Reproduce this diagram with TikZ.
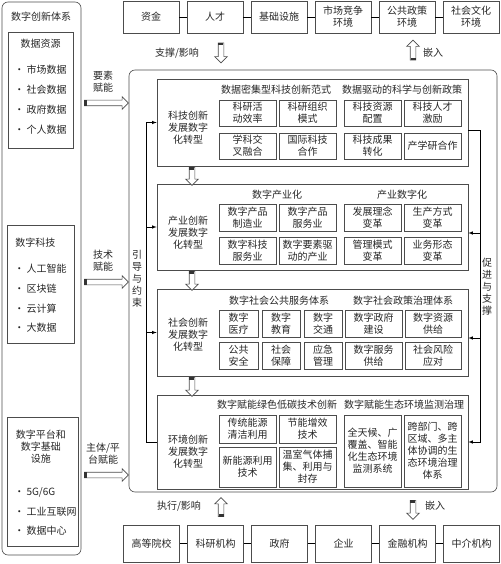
\documentclass[tikz,border=0pt]{standalone}
\usepackage{fontspec}
\setmainfont{Noto Sans CJK SC}
\usetikzlibrary{positioning,shapes.arrows,calc}
\tikzstyle{every picture}+=[>=latex]
\tikzstyle{every picture}+=[line width=0.6pt]
\tikzstyle{every picture}+=[x=1pt,y=-1pt]
\tikzstyle{every picture}+=[node distance=64pt]
\tikzstyle{every node}+=[font=\fontsize{10}{12}\selectfont, text=black!85, align=center]
\tikzstyle{frame}=[draw=black!70, rounded corners=6pt]
\tikzstyle{box}=[draw=black!70, inner sep=1pt]
\tikzstyle{actor}=[box, minimum width=56pt, minimum height=32pt]
\tikzstyle{cell}=[box, minimum width=57pt, minimum height=27pt]
\tikzstyle{sec}=[draw=black!70, minimum width=311pt]
\tikzstyle{item}=[anchor=west, inner sep=0pt]
\tikzstyle{hollow}=[draw=black!70, fill=white, single arrow, single arrow head extend=3.5pt, inner sep=2.5pt, outer sep=0pt, sloped]
\newcommand{\tailmark}[1]{\fill[black!80] (#1.before tail) rectangle ($(#1.after tail)!2.5pt!(#1.tip)$);}

\begin{document}
\begin{tikzpicture}
\useasboundingbox (0,0) rectangle (500,564);
\coordinate (u) at (221,0);
\coordinate (v) at (413,0);
\coordinate (f) at (192,0);

\node[frame, minimum width=79, minimum height=553] (sys) at (41.5,278.5) {};
\node (systitle) at (41,17) {数字创新体系};
\node[box, minimum width=65, minimum height=116] (res) at (40.5,90) {};
\node (restitle) at (40.5,44) {数据资源};
\node[item] (r1) at (14,70) {\textbullet\ 市场数据};
\node[item] (r2) at (14,90) {\textbullet\ 社会数据};
\node[item] (r3) at (14,110) {\textbullet\ 政府数据};
\node[item] (r4) at (14,130) {\textbullet\ 个人数据};
\node[box, minimum width=67, minimum height=118] (tec) at (40.5,284) {};
\node[item] (tectitle) at (15,243) {数字科技};
\node[item] (k1) at (14,269) {\textbullet\ 人工智能};
\node[item] (k2) at (14,289) {\textbullet\ 区块链};
\node[item] (k3) at (14,309) {\textbullet\ 云计算};
\node[item] (k4) at (14,328) {\textbullet\ 大数据};
\node[box, minimum width=71, minimum height=129] (pla) at (42.5,481.5) {};
\node (platitle) at (41,447) {数字平台和\\数字基础\\设施};
\node[item] (p1) at (14,492) {\textbullet\ 5G/6G};
\node[item] (p2) at (14,512) {\textbullet\ 工业互联网};
\node[item] (p3) at (14,531) {\textbullet\ 数据中心};

\node[actor] (t1) at (151,17) {资金};
\node[actor] (t2) [right of=t1] {人才};
\node[actor] (t3) [right of=t2] {基础设施};
\node[actor] (t4) [right of=t3] {市场竞争\\环境};
\node[actor] (t5) [right of=t4] {公共政策\\环境};
\node[actor] (t6) [right of=t5] {社会文化\\环境};
\path (t1) edge (t2) (t2) edge (t3) (t3) edge (t4) (t4) edge (t5) (t5) edge (t6);

\node[actor, minimum height=37] (b1) at (151.5,543.5) {高等院校};
\node[actor, minimum height=37] (b2) [right of=b1] {科研机构};
\node[actor, minimum height=37] (b3) [right of=b2] {政府};
\node[actor, minimum height=37] (b4) [right of=b3] {企业};
\node[actor, minimum height=37] (b5) [right of=b4] {金融机构};
\node[actor, minimum height=37] (b6) [right of=b5] {中介机构};
\path (b1) edge (b2) (b2) edge (b3) (b3) edge (b4) (b4) edge (b5) (b5) edge (b6);

\node[frame, minimum width=368, minimum height=422] (main) at (313,281) {};

\node[sec, minimum height=87] (s1) at (312.5,122.5) {};
\node[sec, minimum height=86] (s2) at (312.5,227) {};
\node[sec, minimum height=87] (s3) at (312.5,332.5) {};
\node[sec, minimum height=94] (s4) at (312.5,442) {};

\node (l1) at (188,128) {科技创新\\发展数字\\化转型};
\node (l2) at (188,233) {产业创新\\发展数字\\化转型};
\node (l3) at (188,335) {社会创新\\发展数字\\化转型};
\node (l4) at (188,452) {环境创新\\发展数字\\化转型};

\node (h1) at (276,90) {数据密集型科技创新范式};
\node (h2) at (402,90) {数据驱动的科学与创新政策};
\node (h3) at (277,195) {数字产业化};
\node (h4) at (402,195) {产业数字化};
\node (h5) at (279,301) {数字社会公共服务体系};
\node (h6) at (403,301) {数字社会政策治理体系};
\node (h7) at (277,405) {数字赋能绿色低碳技术创新};
\node (h8) at (404,405) {数字赋能生态环境监测治理};

\node[cell, minimum height=26] (c1) at (247.5,113) {科研活\\动效率};
\node[cell, minimum height=26] (c2) [right of=c1, node distance=60pt] {科研组织\\模式};
\node[cell, minimum height=26] (c3) [right of=c2, node distance=65pt] {科技资源\\配置};
\node[cell, minimum height=26] (c4) [right of=c3, node distance=60pt] {科技人才\\激励};
\node[cell, minimum height=26] (c5) [below of=c1, node distance=33pt] {学科交\\叉融合};
\node[cell, minimum height=26] (c6) [below of=c2, node distance=33pt] {国际科技\\合作};
\node[cell, minimum height=26] (c7) [below of=c3, node distance=33pt] {科技成果\\转化};
\node[cell, minimum height=26] (c8) [below of=c4, node distance=33pt] {产学研合作};

\node[cell] (g1) at (247.5,218) {数字产品\\制造业};
\node[cell] (g2) [right of=g1, node distance=60pt] {数字产品\\服务业};
\node[cell] (g3) [right of=g2, node distance=65pt] {发展理念\\变革};
\node[cell] (g4) [right of=g3, node distance=60pt] {生产方式\\变革};
\node[cell] (g5) [below of=g1, node distance=32.5pt] {数字科技\\服务业};
\node[cell] (g6) [below of=g2, node distance=32.5pt] {数字要素驱\\动的产业};
\node[cell] (g7) [below of=g3, node distance=32.5pt] {管理模式\\变革};
\node[cell] (g8) [below of=g4, node distance=32.5pt] {业务形态\\变革};

\node[cell, minimum width=39] (m1) at (238.5,323.5) {数字\\医疗};
\node[cell, minimum width=38] (m2) at (281,323.5) {数字\\教育};
\node[cell, minimum width=38] (m3) at (323,323.5) {数字\\交通};
\node[cell] (m4) at (373.5,323.5) {数字政府\\建设};
\node[cell, minimum width=56] (m5) at (433,323.5) {数字资源\\供给};
\node[cell, minimum width=39] (m6) [below of=m1, node distance=32pt] {公共\\安全};
\node[cell, minimum width=38] (m7) [below of=m2, node distance=32pt] {社会\\保障};
\node[cell, minimum width=38] (m8) [below of=m3, node distance=32pt] {应急\\管理};
\node[cell] (m9) [below of=m4, node distance=32pt] {数字服务\\供给};
\node[cell, minimum width=56] (m10) [below of=m5, node distance=32pt] {社会风险\\应对};

\node[cell, minimum height=28] (d1) at (247.5,429) {传统能源\\清洁利用};
\node[cell, minimum height=28] (d2) [right of=d1, node distance=60pt] {节能增效\\技术};
\node[cell, minimum height=40] (d3) at (247.5,467) {新能源利用\\技术};
\node[cell, minimum height=40] (d4) [right of=d3, node distance=60pt] {温室气体捕\\集、利用与\\封存};
\node[cell, minimum height=72] (d5) at (372.5,451) {全天候、广\\覆盖、智能\\化生态环境\\监测系统};
\node[cell, minimum height=72] (d6) [right of=d5, node distance=60pt] {跨部门、跨\\区域、多主\\体协调的生\\态环境治理\\体系};

\path (u |- t1.south) -- node[hollow, minimum height=20] (a1) {} (u |- main.north);
\node (a1l) at (177,53) {支撑/影响};
\path (v |- main.north) -- node[hollow, minimum height=20] (a2) {} (v |- t1.south);
\node (a2l) at (433,53) {嵌入};
\path (u |- b1.north) -- node[hollow, minimum height=19] (a3) {} (u |- main.south);
\node (a3l) at (179,506) {执行/影响};
\path (v |- main.south) -- node[hollow, minimum height=19] (a4) {} (v |- b1.north);
\node (a4l) at (435,506) {嵌入};

\path (sys.east |- 0,103) -- node[hollow, minimum height=44] (e1) {} (main.west |- 0,103);
\node (e1l) at (103,81.5) {要素\\赋能};
\path (sys.east |- 0,282) -- node[hollow, minimum height=44] (e2) {} (main.west |- 0,282);
\node (e2l) at (103,260.5) {技术\\赋能};
\path (sys.east |- 0,475) -- node[hollow, minimum height=44] (e3) {} (main.west |- 0,475);
\node (e3l) at (103,453.5) {主体/平\\台赋能};

\path (f |- s1.south) -- node[hollow, minimum height=18] (q1) {} (f |- s2.north);
\path (f |- s2.south) -- node[hollow, minimum height=19] (q2) {} (f |- s3.north);
\path (f |- s3.south) -- node[hollow, minimum height=19] (q3) {} (f |- s4.north);

\tailmark{a1} \tailmark{a2} \tailmark{a3} \tailmark{a4}
\tailmark{e1} \tailmark{e2} \tailmark{e3}
\tailmark{q1} \tailmark{q2} \tailmark{q3}

\draw[->] (s4.west) -- +(-10,0) |- (s1.west);
\draw[<-] (s2.west) -- +(-10,0);
\draw[<-] (s3.west) -- +(-10,0);
\node (gv) at (137,279) {引\\导\\与\\约\\束};

\draw[->] ([yshift=-7.5pt]s1.east) -- +(12,0) |- (s4.east);
\draw[<-] ([yshift=-6pt]s2.east) -- +(12,0);
\draw[<-] ([yshift=-5.5pt]s3.east) -- +(12,0);
\node (pv) at (487,287) {促\\进\\与\\支\\撑};
\end{tikzpicture}
\end{document}
